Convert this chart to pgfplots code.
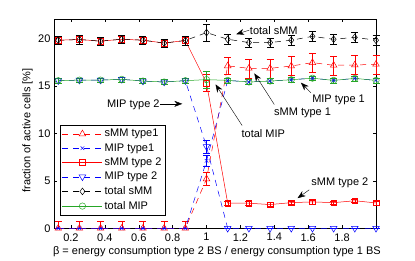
\documentclass[border=0pt]{standalone}
\usepackage{fontspec}
\setmainfont{Liberation Sans}
\usepackage{pgfplots}
\pgfplotsset{compat=1.18}
\usepackage{pgfplotstable}
\usetikzlibrary{arrows.meta}

\definecolor{mred}{rgb}{1,0,0}
\definecolor{mblue}{rgb}{0,0,1}
\definecolor{mgreen}{rgb}{0.15,0.65,0.15}

\pgfplotstableread{
x      a     ap   am   b     be   c      ce   d      de   e      ee   f      fe
0.125  0     0.8  0    0     0    19.80  0.3  15.54  0.25 19.80  0.45 15.54  0.25
0.250  0     0.8  0    0     0    19.87  0.3  15.60  0.25 19.87  0.45 15.60  0.25
0.375  0     0.8  0    0     0    19.70  0.3  15.60  0.25 19.70  0.45 15.60  0.25
0.500  0     0.8  0    0     0    19.90  0.3  15.68  0.25 19.90  0.45 15.68  0.25
0.625  0     0.8  0    0     0    19.80  0.3  15.50  0.25 19.80  0.45 15.50  0.25
0.750  0     0.8  0    0     0    19.50  0.3  15.40  0.25 19.50  0.45 15.40  0.25
0.875  0     0.8  0    0     0    19.77  0.3  15.54  0.25 19.77  0.45 15.54  0.25
1.000  5.2   0.7  0.7  7.1   0.6  15.30  0.9  8.60   0.7  20.60  0.9  15.65  0.9
1.125  17.10 0.9  0.9  15.57 0.25 2.64   0.2  0      0    19.90  0.5  15.57  0.25
1.250  16.84 1.0  1.0  15.40 0.25 2.64   0.2  0      0    19.55  0.5  15.40  0.25
1.375  16.84 1.0  1.0  15.50 0.25 2.50   0.2  0      0    19.55  0.5  15.50  0.25
1.500  17.08 1.0  1.0  15.64 0.25 2.70   0.2  0      0    19.80  0.5  15.64  0.25
1.625  17.44 1.0  1.0  15.80 0.25 2.78   0.2  0      0    20.20  0.5  15.80  0.25
1.750  17.16 1.0  1.0  15.57 0.25 2.70   0.2  0      0    19.90  0.5  15.57  0.25
1.875  17.19 1.0  1.0  15.78 0.25 2.90   0.2  0      0    20.10  0.5  15.78  0.25
2.000  17.26 1.0  1.0  15.57 0.25 2.67   0.2  0      0    19.80  0.5  15.57  0.25
}\data

\begin{document}
\begin{tikzpicture}
\useasboundingbox (-54pt,-31.7pt) rectangle (361pt,228.3pt);
\begin{axis}[
  at={(0,0)}, anchor=south west,
  scale only axis, width=322pt, height=209pt,
  xmin=0.1, xmax=2.0, ymin=0, ymax=22,
  xtick={0.2,0.4,0.6,0.8,1,1.2,1.4,1.6,1.8},
  ytick={0,5,10,15,20},
  tick align=inside, major tick length=3pt,
  tick style={black, line width=0.4pt},
  /pgf/number format/assume math mode=true,
  ticklabel style={font=\fontsize{11}{13}\selectfont},
  xticklabel style={yshift=-1.5pt},
  label style={font=\fontsize{11}{13}\selectfont},
  xlabel={β = energy consumption type 2 BS / energy consumption type 1 BS},
  ylabel={fraction of active cells [\%]},
  xlabel style={at={(axis description cs:0.506,-0.113)}, anchor=center},
  ylabel style={at={(axis description cs:-0.0823,0.468)}, anchor=center},
  clip=false,
  every axis plot/.append style={line width=0.5pt},
  error bars/error bar style={solid, line width=0.4pt},
  error bars/error mark options={rotate=90, mark size=3.5pt, solid, line width=0.4pt},
  legend image code/.code={\draw[mark repeat=2,mark phase=2,#1] plot coordinates {(0pt,0pt) (20pt,0pt) (40pt,0pt)};},
  legend style={at={(rel axis cs:0.0186,0.0636)}, anchor=south west, draw=black, fill=white,
    font=\fontsize{11}{13}\selectfont, row sep=1.2pt, inner sep=2pt, cells={anchor=west}},
]
\addplot[mred, dash pattern=on 6pt off 5pt, mark=triangle, mark size=3.8pt, mark options={solid},
  error bars/.cd, y dir=both, y explicit]
  table[x=x, y=a, y error plus=ap, y error minus=am] {\data};
\addlegendentry{sMM type1}
\addplot[mblue, dash pattern=on 6pt off 5pt, mark=x, mark size=2.5pt, mark options={solid},
  error bars/.cd, y dir=both, y explicit]
  table[x=x, y=b, y error=be] {\data};
\addlegendentry{MIP type1}
\addplot[mred, mark=square, mark size=2.8pt, mark options={solid},
  error bars/.cd, y dir=both, y explicit]
  table[x=x, y=c, y error=ce] {\data};
\addlegendentry{sMM type 2}
\addplot[mblue, dash pattern=on 6pt off 5pt, mark=triangle, mark size=3.8pt, mark options={solid, rotate=180},
  error bars/.cd, y dir=both, y explicit]
  table[x=x, y=d, y error=de] {\data};
\addlegendentry{MIP type 2}
\addplot[black, dash pattern=on 6pt off 5pt, mark=diamond, mark size=3.4pt, mark options={solid},
  error bars/.cd, y dir=both, y explicit]
  table[x=x, y=e, y error=ee] {\data};
\addlegendentry{total sMM}
\addplot[mgreen, mark=o, mark size=3.2pt, mark options={solid},
  error bars/.cd, y dir=both, y explicit]
  table[x=x, y=f, y error=fe] {\data};
\addlegendentry{total MIP}

\tikzset{ann/.style={-{Stealth[length=8pt,width=6pt]}, black, line width=0.4pt},
  lab/.style={font=\fontsize{11}{13}\selectfont, inner sep=0pt}}
\draw[ann] (axis cs:1.253,20.86) -- (axis cs:1.175,20.43);
\node[lab, anchor=west] at (axis cs:1.255,20.86) {total sMM};
\draw[ann] (axis cs:1.40,13.03) -- (axis cs:1.282,16.31);
\node[lab] at (axis cs:1.567,12.16) {sMM type 1};
\draw[ann] (axis cs:1.616,14.27) -- (axis cs:1.557,15.33);
\node[lab] at (axis cs:1.779,13.56) {MIP type 1};
\draw[ann] (axis cs:0.724,13.1) -- (axis cs:0.857,13.1);
\node[lab] at (axis cs:0.568,13.03) {MIP type 2};
\draw[ann] (axis cs:1.21,10.82) -- (axis cs:1.053,15.15);
\node[lab] at (axis cs:1.335,9.97) {total MIP};
\draw[ann] (axis cs:1.606,4.05) -- (axis cs:1.537,3.17);
\node[lab] at (axis cs:1.787,4.76) {sMM type 2};
\end{axis}
\end{tikzpicture}
\end{document}
